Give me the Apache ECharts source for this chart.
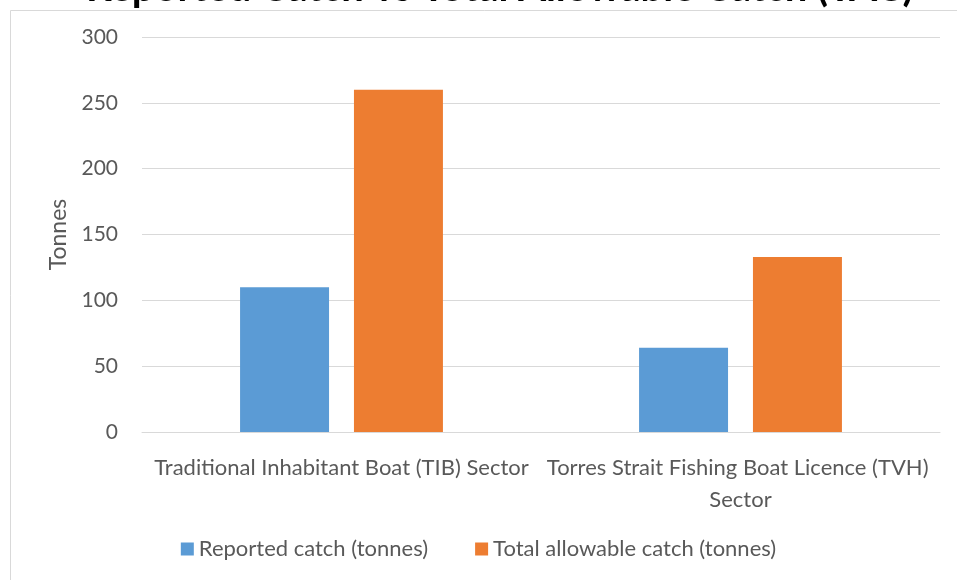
<!DOCTYPE html>
<html>
<head>
<meta charset="utf-8">
<script src="https://cdn.jsdelivr.net/npm/echarts@6/dist/echarts.min.js"></script>
<style>html,body{margin:0;padding:0;background:#fff}#c{width:957px;height:580px}</style>
</head>
<body>
<div id="c"></div>
<script>
const titleText = 'Reported Catch vs Total Allowable Catch (TAC)';
const categories = ['Traditional Inhabitant Boat (TIB) Sector', 'Torres Strait Fishing Boat Licence (TVH) Sector'];
const seriesNames = ['Reported catch (tonnes)', 'Total allowable catch (tonnes)'];
const reportedCatch = [110, 64];
const totalAllowableCatch = [260, 133];
const yAxisName = 'Tonnes';

const FONT = 'Lato';
const chart = echarts.init(document.getElementById('c'), null, {renderer: 'canvas'});
chart.setOption({
  backgroundColor: '#ffffff',
  animation: false,
  textStyle: {fontFamily: FONT},
  title: {
    text: titleText,
    left: 86,
    top: -32,
    padding: 0,
    textStyle: {fontFamily: FONT, fontSize: 40, fontWeight: 'bold', color: '#000000'}
  },
  graphic: [{
    type: 'rect', left: 8, top: 8, z: -1, silent: true,
    shape: {width: 1200, height: 1200},
    style: {fill: 'none', stroke: '#d9d9d9', lineWidth: 1}
  }],
  grid: {left: 142, right: 17, top: 37, bottom: 148, containLabel: false},
  legend: {
    bottom: 15, left: 'center',
    itemWidth: 13, itemHeight: 13, itemGap: 47,
    icon: 'rect',
    textStyle: {fontFamily: FONT, fontSize: 22, color: '#595959'},
    data: seriesNames
  },
  xAxis: {
    type: 'category',
    data: categories,
    axisLine: {lineStyle: {color: '#d9d9d9', width: 1}},
    axisTick: {show: false},
    axisLabel: {
      interval: 0, margin: 20, color: '#595959', fontFamily: FONT, fontSize: 22,
      width: 395, overflow: 'break', lineHeight: 32
    }
  },
  yAxis: {
    type: 'value', min: 0, max: 300, interval: 50,
    name: yAxisName, nameLocation: 'middle', nameGap: 72, nameRotate: 90,
    nameTextStyle: {fontFamily: FONT, fontSize: 23, color: '#595959'},
    axisLine: {show: false}, axisTick: {show: false},
    axisLabel: {margin: 24, color: '#595959', fontFamily: FONT, fontSize: 21},
    splitLine: {lineStyle: {color: '#d9d9d9', width: 1}}
  },
  series: [
    {name: seriesNames[0], type: 'bar', data: reportedCatch, barWidth: '22.3%', barGap: '28%',
     itemStyle: {color: '#5b9bd5'}},
    {name: seriesNames[1], type: 'bar', data: totalAllowableCatch, barWidth: '22.3%', barGap: '28%',
     itemStyle: {color: '#ed7d31'}}
  ]
});
</script>
</body>
</html>
